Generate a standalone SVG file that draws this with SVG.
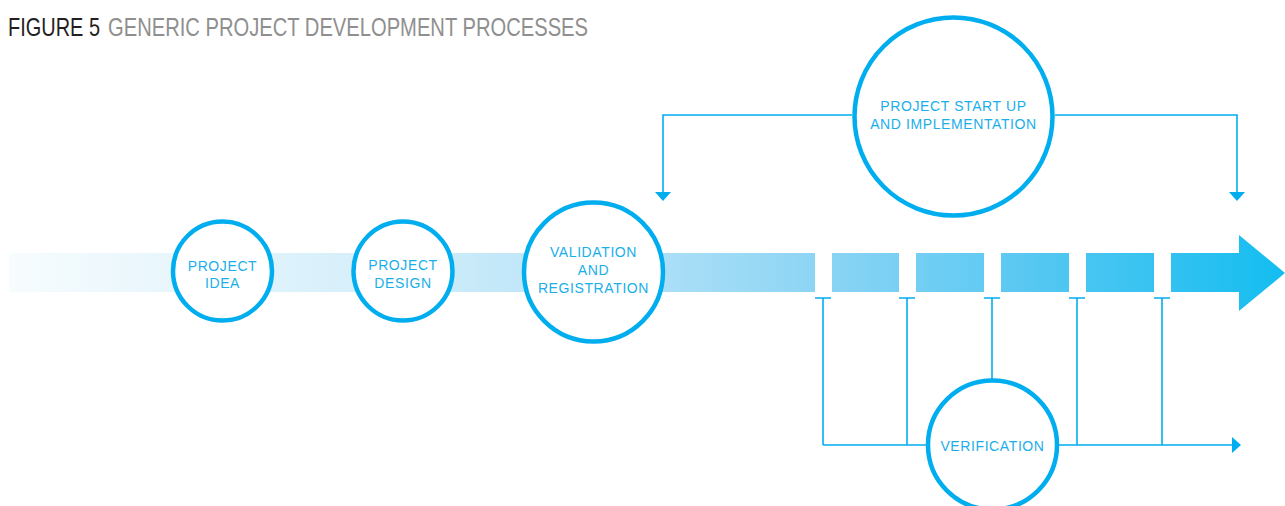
<svg xmlns="http://www.w3.org/2000/svg" width="1285" height="506" viewBox="0 0 1285 506">
<defs>
<linearGradient id="barGrad" gradientUnits="userSpaceOnUse" x1="9" y1="0" x2="1285" y2="0">
<stop offset="0" stop-color="#f7fcfe"/>
<stop offset="0.3" stop-color="#d3eefa"/>
<stop offset="0.5" stop-color="#aee0f7"/>
<stop offset="0.64" stop-color="#8bd4f4"/>
<stop offset="0.8" stop-color="#57c8f2"/>
<stop offset="1" stop-color="#14bdf0"/>
</linearGradient>
<style>
.node circle{fill:#fff;stroke:#00aeef;stroke-width:4.5}
.lbl{font-family:"Liberation Sans",Arial,sans-serif;font-size:14px;fill:#1aaeea;text-anchor:middle;letter-spacing:0.6px}
.ttl{font-family:"Liberation Sans",Arial,sans-serif;font-size:25px}
.con{fill:none;stroke:#00aeef;stroke-width:1.6}
.head{fill:#00aeef}
</style>
</defs>
<rect width="1285" height="506" fill="#fff"/>
<g id="title">
<text class="ttl" transform="translate(8,36) scale(0.8,1)" x="0" y="0" textLength="115" lengthAdjust="spacingAndGlyphs" fill="#231f20">FIGURE 5</text>
<text class="ttl" transform="translate(108,36) scale(0.8,1)" x="0" y="0" textLength="600" lengthAdjust="spacingAndGlyphs" fill="#8f8f8f">GENERIC PROJECT DEVELOPMENT PROCESSES</text>
</g>
<g id="timeline" fill="url(#barGrad)">
<rect x="9" y="253" width="806" height="39"/>
<rect x="832" y="253" width="67" height="39"/>
<rect x="916" y="253" width="68" height="39"/>
<rect x="1001" y="253" width="68" height="39"/>
<rect x="1086" y="253" width="68" height="39"/>
<path d="M1171,253 H1239 V235 L1285,273 L1239,311 V292 H1171 Z"/>
</g>
<g id="connectors">
<path class="con" d="M852,115 H663 V193"/>
<polygon class="head" points="655,192 671,192 663,201"/>
<path class="con" d="M1055,115 H1237 V193"/>
<polygon class="head" points="1229,192 1245,192 1237,201"/>
<path class="con" d="M815,298 H831 M899,298 H915 M984,298 H1000 M1069,298 H1085 M1154,298 H1170"/>
<path class="con" d="M823,298 V445 M907,298 V445 M992,298 V380 M1077,298 V445 M1162,298 V445 M823,445 H1234"/>
<polygon class="head" points="1232,437 1241,445 1232,453"/>
</g>
<g id="project-idea" class="node">
<circle cx="222.5" cy="271" r="49.5"/>
<text class="lbl" x="222.5" y="271">PROJECT</text>
<text class="lbl" x="222.5" y="288">IDEA</text>
</g>
<g id="project-design" class="node">
<circle cx="403" cy="271" r="49.5"/>
<text class="lbl" x="403" y="270">PROJECT</text>
<text class="lbl" x="403" y="288">DESIGN</text>
</g>
<g id="validation" class="node">
<circle cx="593.5" cy="272" r="69.5"/>
<text class="lbl" x="593.5" y="257">VALIDATION</text>
<text class="lbl" x="593.5" y="275">AND</text>
<text class="lbl" x="593.5" y="293">REGISTRATION</text>
</g>
<g id="startup" class="node">
<circle cx="953.5" cy="116.5" r="99"/>
<text class="lbl" x="953.5" y="111">PROJECT START UP</text>
<text class="lbl" x="953.5" y="129">AND IMPLEMENTATION</text>
</g>
<g id="verification" class="node">
<circle cx="992.5" cy="445" r="64.5"/>
<text class="lbl" x="992.5" y="451">VERIFICATION</text>
</g>
</svg>
